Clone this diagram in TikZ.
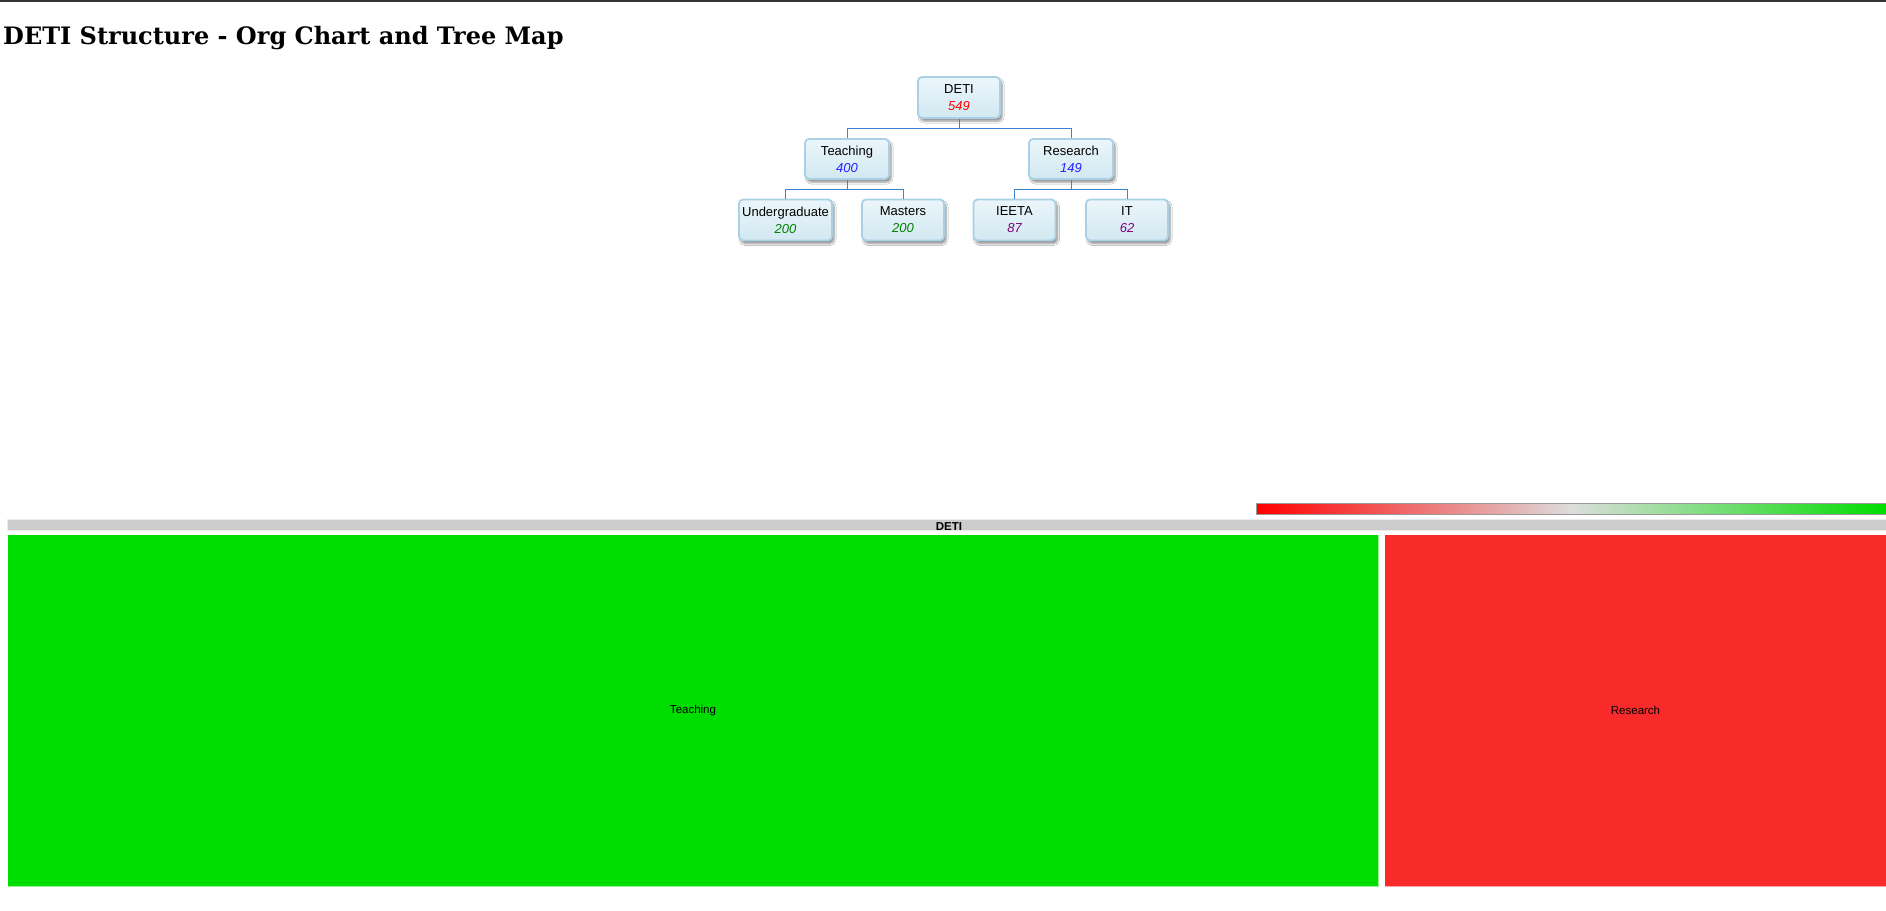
\documentclass[tikz,border=0pt]{standalone}
\usepackage{fontspec}
\setmainfont{Liberation Sans}
\newfontfamily\titlefont{DejaVu Serif}
\usetikzlibrary{shadows,shadows.blur}
\definecolor{boxtop}{HTML}{EBF6FB}
\definecolor{boxbot}{HTML}{D2E8F1}
\definecolor{boxline}{HTML}{A9D0E5}
\definecolor{linkblue}{HTML}{3C82D2}
\definecolor{tmgreen}{HTML}{00DD00}
\definecolor{tmred}{HTML}{F92A2A}
\definecolor{barmid}{HTML}{DDDDDD}
\definecolor{hdrgrey}{HTML}{CCCCCC}
\definecolor{valred}{HTML}{FF0000}
\definecolor{valblue}{HTML}{2020FF}
\definecolor{valgreen}{HTML}{008000}
\definecolor{valpurple}{HTML}{800080}
\definecolor{topline}{HTML}{333333}
\tikzset{
  orgbox/.style={draw=boxline, line width=1.8pt, rounded corners=4pt,
    top color=boxtop, bottom color=boxbot, minimum width=82pt,
    minimum height=41pt, inner sep=0pt, align=center,
    font=\fontsize{13}{17}\selectfont,
    blur shadow={shadow xshift=2pt, shadow yshift=-3pt, shadow blur radius=2pt,
      shadow blur steps=6, shadow opacity=45}},
  link/.style={draw=linkblue, line width=1pt},
  tmbox/.style={draw=white, draw opacity=0.6, line width=1pt, inner sep=0pt,
    anchor=north west, minimum height=352pt, font=\fontsize{11.5}{13}\selectfont},
}
\begin{document}
\begin{tikzpicture}[x=1pt,y=-1pt]
\useasboundingbox (0,0) rectangle (1886,910);
\fill[white] (0,0) rectangle (1886,910);
\fill[topline] (0,0) rectangle (1886,2);
\node[anchor=base west, inner sep=0pt, font=\titlefont\bfseries\fontsize{24}{28}\selectfont] (title) at (3,44) {DETI Structure - Org Chart and Tree Map};

% org chart
\node[orgbox] (deti) at (959,97.5) {DETI\\\textit{\color{valred}549}};
\node[orgbox, minimum width=84pt, minimum height=40pt] (teach) at (847,159) {Teaching\\\textit{\color{valblue}400}};
\node[orgbox, minimum width=84pt, minimum height=40pt] (res) at (1071,159) {Research\\\textit{\color{valblue}149}};
\node[orgbox, minimum width=93pt] (under) at (785.5,220) {Undergraduate\\\textit{\color{valgreen}200}};
\node[orgbox] (mast) at (903,220) {Masters\\\textit{\color{valgreen}200}};
\node[orgbox] (ieeta) at (1014.5,220) {IEETA\\\textit{\color{valpurple}87}};
\node[orgbox] (it) at (1127,220) {IT\\\textit{\color{valpurple}62}};

\draw[link] (deti.south) -- ++(0,10) -| (teach.north);
\draw[link] (deti.south) -- ++(0,10) -| (res.north);
\draw[link] (teach.south) -- ++(0,10) -| (under.north);
\draw[link] (teach.south) -- ++(0,10) -| (mast.north);
\draw[link] (res.south) -- ++(0,10) -| (ieeta.north);
\draw[link] (res.south) -- ++(0,10) -| (it.north);

% legend bar
\node[draw=black!40, line width=1pt, left color=red, right color=tmgreen, middle color=barmid,
  minimum width=630pt, minimum height=11pt, inner sep=0pt, anchor=north west] (legend) at (1256,503) {};

% treemap header
\node[fill=hdrgrey, draw=black!8, line width=1pt, minimum width=1879pt, minimum height=11pt,
  inner sep=0pt, anchor=north west] (hdr) at (7,519) {};
\node[inner sep=0pt, font=\bfseries\fontsize{11.5}{13}\selectfont] (hdrlabel) at (949,527) {DETI};

% treemap cells
\node[tmbox, fill=tmgreen, minimum width=1371pt] (teachtm) at (7,534) {Teaching};
\node[tmbox, fill=tmred, minimum width=502pt] (restm) at (1384,534) {Research};
\end{tikzpicture}
\end{document}
